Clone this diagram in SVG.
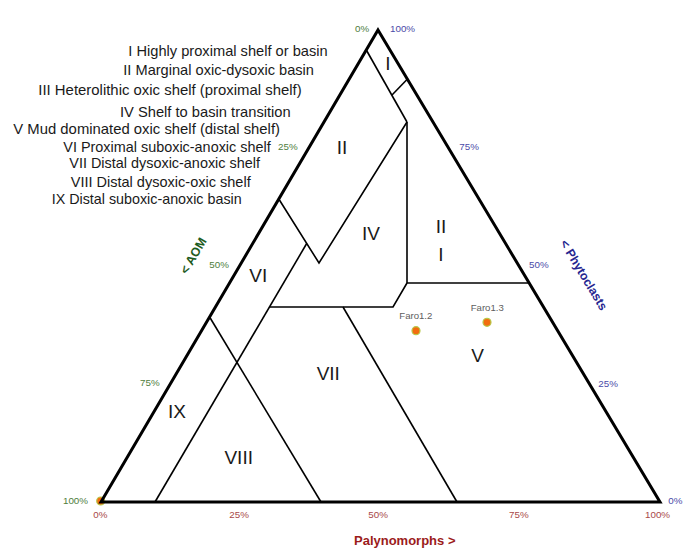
<svg xmlns="http://www.w3.org/2000/svg" width="699" height="550" viewBox="0 0 699 550">
<style>
  .outer { fill: none; stroke: #000; stroke-width: 3; stroke-linejoin: miter; }
  .bnd { fill: none; stroke: #000; stroke-width: 1.6; stroke-linejoin: miter; }
  .reg { font-family: "Liberation Sans", Arial, sans-serif; font-size: 19px; fill: #1a1a1a; text-anchor: middle; }
  .leg { font-family: "Liberation Sans", Arial, sans-serif; font-size: 14.8px; fill: #1a1a1a; }
  .pct { font-family: "Liberation Sans", Arial, sans-serif; font-size: 9.8px; }
  .g { fill: #4e7d3c; }
  .b { fill: #4a4aa8; }
  .r { fill: #a84848; }
  .pt { fill: #f26c0f; stroke: #b8c84a; stroke-width: 1.2; }
  .ptl { font-family: "Liberation Sans", Arial, sans-serif; font-size: 9.6px; fill: #606060; }
  .ax { font-family: "Liberation Sans", Arial, sans-serif; font-weight: bold; }
</style>
<rect width="699" height="550" fill="#fff"/>

<g id="legend">
  <text class="leg" x="128.3" y="55.5" textLength="199.4" lengthAdjust="spacingAndGlyphs">I Highly proximal shelf or basin</text>
  <text class="leg" x="123.3" y="75" textLength="190.7" lengthAdjust="spacingAndGlyphs">II Marginal oxic-dysoxic basin</text>
  <text class="leg" x="38.3" y="95" textLength="263.4" lengthAdjust="spacingAndGlyphs">III Heterolithic oxic shelf (proximal shelf)</text>
  <text class="leg" x="120" y="116.7" textLength="170.7" lengthAdjust="spacingAndGlyphs">IV Shelf to basin transition</text>
  <text class="leg" x="13.3" y="134.3" textLength="266.7" lengthAdjust="spacingAndGlyphs">V Mud dominated oxic shelf (distal shelf)</text>
  <text class="leg" x="63.3" y="151.7" textLength="207.4" lengthAdjust="spacingAndGlyphs">VI Proximal suboxic-anoxic shelf</text>
  <text class="leg" x="69.3" y="168.3" textLength="190.7" lengthAdjust="spacingAndGlyphs">VII Distal dysoxic-anoxic shelf</text>
  <text class="leg" x="70.7" y="187" textLength="180" lengthAdjust="spacingAndGlyphs">VIII Distal dysoxic-oxic shelf</text>
  <text class="leg" x="51.7" y="204.3" textLength="190" lengthAdjust="spacingAndGlyphs">IX Distal suboxic-anoxic basin</text>
</g>

<g id="point-origin">
  <circle class="pt" cx="100.7" cy="501" r="4"/>
</g>

<g id="connectors">
  <polygon id="triangle" class="outer" points="378,30 660,502 101,502"/>
  <line class="bnd" x1="366.3" y1="50" x2="407" y2="122"/>
  <line class="bnd" x1="392" y1="95" x2="407" y2="79.5"/>
  <line class="bnd" x1="407" y1="122" x2="407" y2="283"/>
  <line class="bnd" x1="407" y1="283" x2="529.2" y2="283"/>
  <polyline class="bnd" points="407,283 393,307 269.4,307"/>
  <polyline class="bnd" points="407,122 319,263 278.8,199"/>
  <line class="bnd" x1="155" y1="502" x2="306.7" y2="243.5"/>
  <line class="bnd" x1="209.6" y1="317" x2="321" y2="502"/>
  <line class="bnd" x1="343" y1="307" x2="457" y2="502"/>
</g>

<g id="region-I"><text class="reg" x="388" y="70">I</text></g>
<g id="region-II"><text class="reg" x="342" y="154">II</text></g>
<g id="region-IV"><text class="reg" x="371" y="240">IV</text></g>
<g id="region-III"><text class="reg" x="441" y="233.3">II</text><text class="reg" x="441" y="260.7">I</text></g>
<g id="region-VI"><text class="reg" x="258.3" y="281.7">VI</text></g>
<g id="region-VII"><text class="reg" x="328.3" y="380">VII</text></g>
<g id="region-IX"><text class="reg" x="177" y="418.3">IX</text></g>
<g id="region-VIII"><text class="reg" x="238.7" y="464">VIII</text></g>
<g id="region-V"><text class="reg" x="477.7" y="362">V</text></g>

<g id="axis-aom">
  <text class="pct g" x="355" y="31.5">0%</text>
  <text class="pct g" x="278" y="150">25%</text>
  <text class="pct g" x="209.3" y="268.4">50%</text>
  <text class="pct g" x="140" y="386">75%</text>
  <text class="pct g" x="88" y="504" text-anchor="end">100%</text>
  <text class="ax" transform="translate(193.3,255.7) rotate(-59.5)" x="0" y="4.3" text-anchor="middle" font-size="12.5" fill="#1e5c1e">&lt; AOM</text>
</g>

<g id="axis-phytoclasts">
  <text class="pct b" x="390" y="31.5">100%</text>
  <text class="pct b" x="459.3" y="150">75%</text>
  <text class="pct b" x="529" y="268.4">50%</text>
  <text class="pct b" x="598.3" y="386.7">25%</text>
  <text class="pct b" x="668.3" y="504">0%</text>
  <text class="ax" transform="translate(584,275) rotate(59)" x="0" y="4.3" text-anchor="middle" font-size="12.3" fill="#262690">&lt; Phytoclasts</text>
</g>

<g id="axis-palynomorphs">
  <text class="pct r" x="93.3" y="518.4">0%</text>
  <text class="pct r" x="229.3" y="518.4">25%</text>
  <text class="pct r" x="368.3" y="518.4">50%</text>
  <text class="pct r" x="509" y="518.4">75%</text>
  <text class="pct r" x="645" y="518.4">100%</text>
  <text class="ax" x="354" y="544.7" font-size="13" fill="#9b1b1b">Palynomorphs  &gt;</text>
</g>

<g id="data-points">
  <g id="faro1-2">
    <circle class="pt" cx="416" cy="330.7" r="4"/>
    <text class="ptl" x="399.3" y="319">Faro1.2</text>
  </g>
  <g id="faro1-3">
    <circle class="pt" cx="487" cy="322.3" r="4"/>
    <text class="ptl" x="470.7" y="311">Faro1.3</text>
  </g>
</g>
</svg>
